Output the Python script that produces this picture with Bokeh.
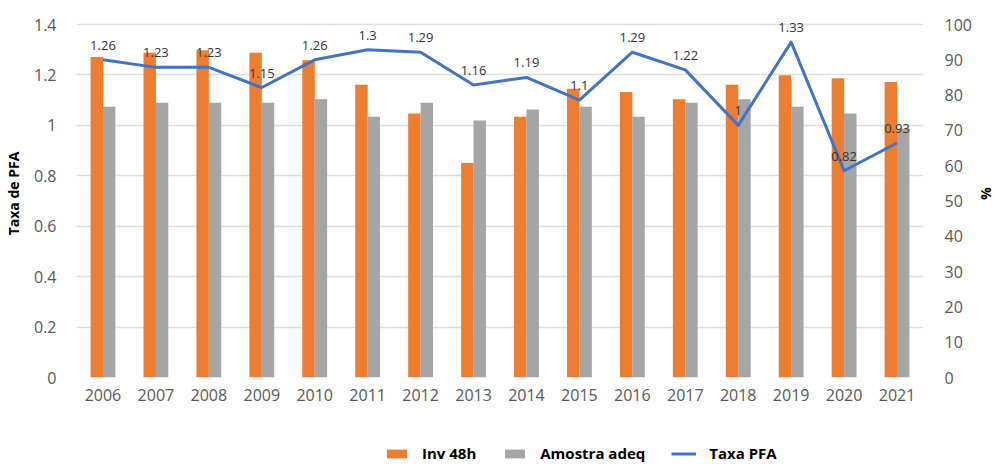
from bokeh.plotting import figure
from bokeh.layouts import column
from bokeh.models import (ColumnDataSource, FactorRange, Range1d, LinearAxis, FixedTicker,
                          CustomJSTickFormatter, Legend, LegendItem)
from bokeh.transform import dodge
from bokeh.core.properties import value
from bokeh.embed import file_html
from bokeh.resources import INLINE

years = ["2006", "2007", "2008", "2009", "2010", "2011", "2012", "2013",
         "2014", "2015", "2016", "2017", "2018", "2019", "2020", "2021"]
inv_48h = [90.8, 92.0, 92.7, 92.0, 89.9, 82.9, 74.8, 60.8,
           73.9, 81.8, 80.9, 78.8, 82.9, 85.6, 84.8, 83.7]
amostra_adeq = [76.7, 77.8, 77.8, 77.8, 78.8, 73.9, 77.8, 72.8,
                75.9, 76.7, 73.9, 77.8, 78.8, 76.7, 74.8, 70.5]
taxa_pfa = [1.26, 1.23, 1.23, 1.15, 1.26, 1.3, 1.29, 1.16,
            1.19, 1.1, 1.29, 1.22, 1.0, 1.33, 0.82, 0.93]
taxa_labels = ["1.26", "1.23", "1.23", "1.15", "1.26", "1.3", "1.29", "1.16",
               "1.19", "1.1", "1.29", "1.22", "1", "1.33", "0.82", "0.93"]
left_ticks = [0, 0.2, 0.4, 0.6, 0.8, 1.0, 1.2, 1.4]
right_ticks = [0, 10, 20, 30, 40, 50, 60, 70, 80, 90, 100]
legend_labels = ["Inv 48h", "Amostra adeq", "Taxa PFA"]

src = ColumnDataSource(dict(x=years, inv=inv_48h, amo=amostra_adeq,
                            taxa=taxa_pfa, lab=taxa_labels))

FONT = "Open Sans"
TICK_COLOR = "#595959"
ORANGE, GREY, BLUE = "#ED7D31", "#A5A5A5", "#4472C4"

# axis extent 0..1.4 spans 353 px; the frame has extra head-room above it
AXIS_PX = 353
FRAME_H = 368
left_top = 1.4 * FRAME_H / AXIS_PX
right_top = 100 * FRAME_H / AXIS_PX

p = figure(x_range=FactorRange(*years, range_padding=0),
           y_range=Range1d(0, left_top),
           frame_width=847, frame_height=FRAME_H,
           min_border_left=70, min_border_right=63,
           min_border_top=9, min_border_bottom=40,
           output_backend="svg", toolbar_location=None,
           background_fill_color="white", border_fill_color="white")
p.outline_line_color = None
p.extra_y_ranges = {"pct": Range1d(0, right_top)}

# bars (right axis, %)
p.vbar(x=dodge("x", -0.117, range=p.x_range), top="inv", width=0.235,
       source=src, y_range_name="pct", fill_color=ORANGE, line_color=None)
p.vbar(x=dodge("x", 0.117, range=p.x_range), top="amo", width=0.235,
       source=src, y_range_name="pct", fill_color=GREY, line_color=None)

# line (left axis)
p.line(x="x", y="taxa", source=src, line_color=BLUE, line_width=3, line_join="round")
p.text(x="x", y="taxa", text="lab", source=src, text_align="center",
       text_baseline="bottom", y_offset=-10, text_font=value(FONT),
       text_font_size="13px", text_color="#333333")

# left axis
ya = p.yaxis[0]
ya.ticker = FixedTicker(ticks=left_ticks)
ya.formatter = CustomJSTickFormatter(code="return tick.toFixed(1).replace(/\\.0$/, '');")
ya.axis_label = "Taxa de PFA"
ya.axis_label_text_font = FONT
ya.axis_label_text_font_style = "bold"
ya.axis_label_text_font_size = "14px"
ya.axis_label_text_color = "black"
ya.axis_label_standoff = 8

# right axis
ra = LinearAxis(y_range_name="pct", ticker=FixedTicker(ticks=right_ticks),
                axis_label="%")
ra.axis_label_text_font = FONT
ra.axis_label_text_font_style = "bold"
ra.axis_label_text_font_size = "14px"
ra.axis_label_text_color = "black"
ra.axis_label_standoff = 2
p.add_layout(ra, "right")

for ax in (ya, ra):
    ax.major_label_text_font = FONT
    ax.major_label_text_font_size = "16px"
    ax.major_label_text_color = TICK_COLOR
    ax.axis_line_color = None
    ax.major_tick_line_color = None
    ax.minor_tick_line_color = None
ya.major_label_standoff = 14
ra.major_label_standoff = 15

xa = p.xaxis[0]
xa.major_label_text_font = FONT
xa.major_label_text_font_size = "16px"
xa.major_label_text_color = TICK_COLOR
xa.axis_line_color = None
xa.major_tick_line_color = None
xa.minor_tick_line_color = None
xa.major_label_standoff = 5

p.xgrid.grid_line_color = None
p.ygrid.grid_line_color = "#DEDEDE"
p.ygrid.grid_line_width = 1.5
p.ygrid.ticker = FixedTicker(ticks=left_ticks)

# legend strip below the chart; swatch renderers sit outside the visible range
lg = figure(width=980, height=46, x_range=Range1d(0, 1), y_range=Range1d(0, 1),
            x_axis_location=None, y_axis_location=None,
            min_border_left=0, min_border_right=0, min_border_top=0, min_border_bottom=0,
            output_backend="svg", toolbar_location=None,
            background_fill_color="white", border_fill_color="white")
lg.outline_line_color = None
lg.xgrid.grid_line_color = None
lg.ygrid.grid_line_color = None
s_inv = lg.vbar(x=[5], top=[6], bottom=[5], width=0.1, fill_color=ORANGE, line_color=None)
s_amo = lg.vbar(x=[5], top=[6], bottom=[5], width=0.1, fill_color=GREY, line_color=None)
s_line = lg.line(x=[5, 6], y=[5, 5], line_color=BLUE, line_width=3)

legend = Legend(items=[LegendItem(label=legend_labels[0], renderers=[s_inv]),
                       LegendItem(label=legend_labels[1], renderers=[s_amo]),
                       LegendItem(label=legend_labels[2], renderers=[s_line])],
                orientation="horizontal", location=(308, 0),
                padding=0, margin=0, spacing=26, label_standoff=13,
                glyph_width=25, glyph_height=11,
                label_text_font=FONT, label_text_font_style="bold",
                label_text_font_size="15px", label_text_color="black",
                border_line_color=None, background_fill_alpha=0)
lg.add_layout(legend, "center")

root = column(p, lg, spacing=0)

open("out.html", "w").write(file_html(root, INLINE))
